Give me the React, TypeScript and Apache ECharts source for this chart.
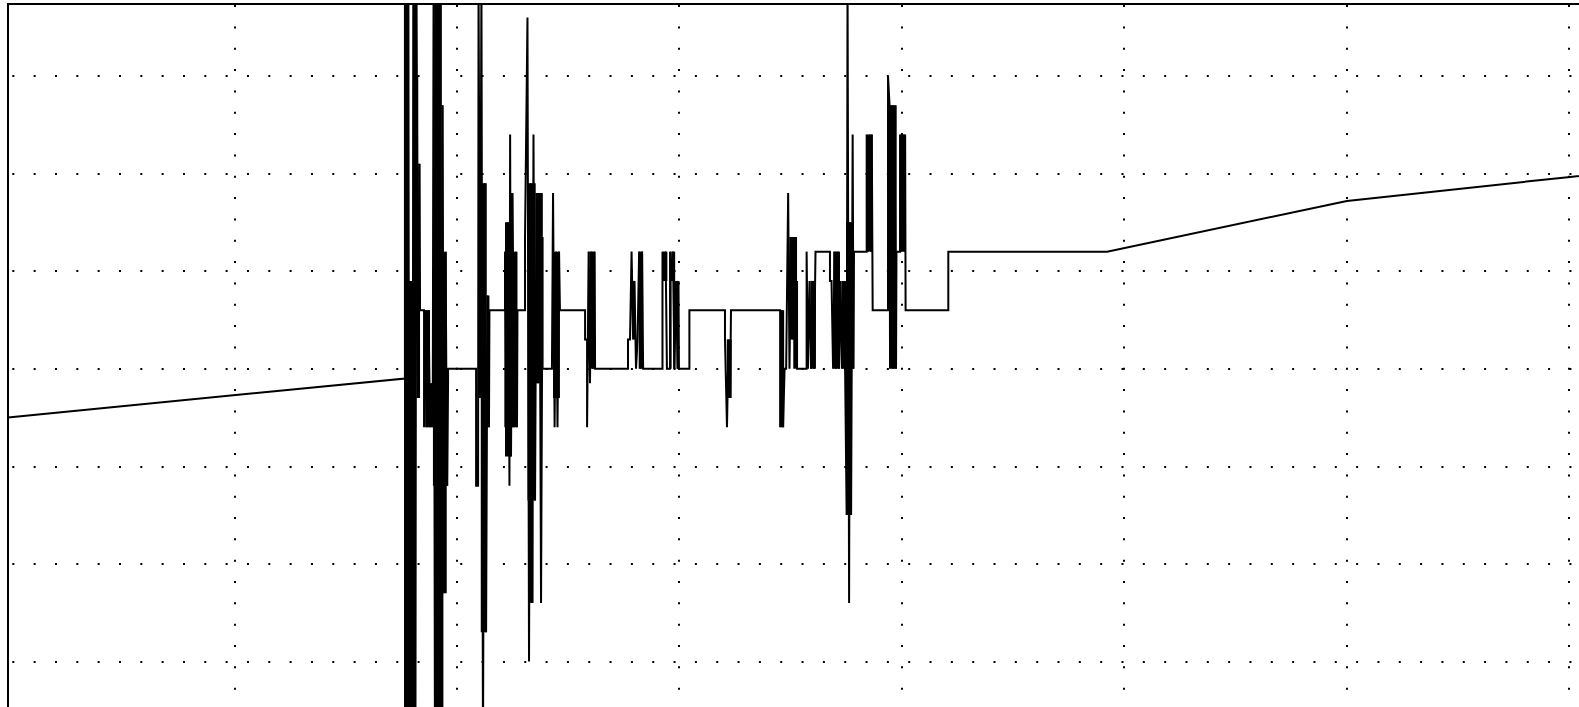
import React, { useEffect, useRef } from "react";
import * as echarts from "echarts";

// x: time, 100 units per division; y: amplitude, 5 units per division
const xGridTicks = [100, 200, 300, 400, 500, 600, 700];
const yGridTicks = [15, 10, 5, 0, -5, -10, -15];

const leftRamp: number[][] = [[-1.75, -2.5], [176.7, -0.5]];

const burstA: number[][] = [
  [176.7, 20], [177.4, -20], [178.1, 20], [178.7, -20], [179.2, 4.5], [179.9, -20],
  [180.6, 20], [181.2, -20], [181.9, 20], [182.6, -1.5], [183.3, 10.5], [183.5, 3],
  [185.3, 3], [185.3, -3], [186.0, 3], [186.6, -3], [187.3, 3], [188.0, -3],
  [188.7, -0.75], [189.2, -3],
];

const burstB: number[][] = [
  [189.6, 20], [190.2, -20], [190.9, 20], [191.6, -20], [192.3, 20], [192.9, -20],
  [193.6, 13.5], [194.3, -11.5], [195.0, 6], [195.6, -6], [196.1, -0.75], [196.1, 0],
  [208.7, 0], [208.7, -6], [209.6, -6],
];

const burstC: number[][] = [
  [209.8, 20], [210.5, -1.5], [211.1, 20], [211.8, -20], [212.5, 9.5], [213.2, -13.5],
  [213.8, 3.75], [214.5, -3], [214.7, 3], [221.7, 3], [221.7, 6], [222.4, -3],
  [223.1, 7.5], [223.7, -6], [224.0, 12], [224.4, -4.5], [225.1, 9], [225.8, -3],
  [226.4, 6], [227.1, -3], [227.3, 3], [230.7, 3], [230.7, 6.75], [231.8, 18],
  [232.5, -15], [233.2, 9.5], [233.9, -12], [234.5, 12], [235.2, -6.75], [235.9, 9],
  [236.5, -0.75], [237.2, 9], [237.9, -12], [238.6, 6.75], [238.6, 0], [242.8, 0],
  [243.3, 9], [244.0, -3], [244.6, 6], [245.3, -3], [246.0, 6], [246.4, 3], [257.7, 3],
];

const midSection: number[][] = [
  [257.7, 1.5], [258.6, 1.5], [258.6, -3], [259.3, 6], [259.9, -0.75], [260.6, 6],
  [261.3, 0], [262.0, 6], [262.2, 0], [277.0, 0], [277.0, 1.5], [277.9, 1.5],
  [278.6, 6], [279.3, 1.5], [279.9, 4.5], [280.6, 0], [281.3, 1.5], [282.0, 6],
  [282.6, 0], [283.3, 6], [283.8, 0], [292.5, 0], [292.5, 6], [293.2, 4.5],
  [293.9, 6], [294.5, 0], [295.9, 0], [295.9, 6], [296.6, 4.5], [297.2, 6],
  [297.9, 0], [298.6, 4.5], [299.3, 0], [299.7, 4.5], [299.9, 0], [304.6, 0],
  [304.6, 3], [320.6, 3], [320.6, 1.5], [321.5, -3], [322.2, 1.5], [322.9, -1.5],
  [323.3, 3], [345.4, 3],
];

const burstD: number[][] = [
  [345.4, -3], [346.0, 3], [346.7, -3], [347.4, 0], [348.1, 0], [349.0, 9],
  [349.6, 0], [350.3, 6.75], [351.0, 1.5], [351.6, 6], [352.3, 1.5], [353.0, 4.5],
  [353.0, 0], [357.3, 0], [357.3, 6], [357.9, 0], [358.6, 4.5], [359.3, 0],
  [360.0, 4.5], [360.6, 0], [361.3, 6], [367.8, 6], [367.8, 4.5], [368.5, 4.5],
  [369.2, 0], [369.9, 6], [370.5, 0], [371.2, 6], [371.9, 0], [372.6, 4.5],
  [373.2, 0], [373.9, 4.5], [374.6, 0], [375.3, -7.5], [375.7, 20], [376.4, -12],
  [376.8, 7.5], [377.3, -7.5], [378.0, 12], [378.4, 0], [378.6, 6], [384.3, 6],
  [384.3, 12], [384.9, 6], [385.6, 12], [386.3, 6], [386.6, 12], [387.0, 3],
  [393.9, 3], [393.9, 15], [394.6, 13.5], [394.8, 0], [395.5, 13.5], [396.2, 0],
  [396.8, 13.5], [397.5, 0], [397.7, 6], [399.3, 6], [399.3, 12], [400.0, 6],
  [400.7, 12], [401.3, 6], [401.6, 12], [401.8, 3], [421.0, 3],
];

const rightRamp: number[][] = [
  [421.0, 6], [492.4, 6], [600.2, 8.6], [700.6, 9.83], [714, 10],
];

// dense-oscillation envelopes: [xStart, xEnd, yLow, yHigh]
const envelopes: number[][] = [
  [176.3, 178.7, -20, 20], [178.9, 180.1, -20, 4.5], [180.1, 181.9, -20, 20],
  [181.9, 182.7, -1.5, 15], [182.7, 183.5, -1.5, 10.5],
  [185.8, 188.0, -3, 3], [188.0, 189.2, -3, -0.75],
  [189.3, 190.2, -6, 20], [190.2, 193.3, -20, 20], [193.3, 194.0, -20, 13.5],
  [194.0, 195.5, -11.5, 6], [195.5, 196.2, -6, -0.75],
  [209.7, 213.5, -1.5, 9.5], [213.5, 214.7, -3, 3.75], [210.8, 213.5, -13.5, -1.5],
  [221.4, 227.3, -3, 6], [221.7, 224.6, -4.5, 7.5], [224.4, 225.3, -3, 9],
  [231.8, 235.5, -6.75, 9.5], [235.5, 238.7, -0.75, 9], [232.4, 234.5, -12, -6.75],
  [243.3, 246.4, -1.5, 6],
  [259.6, 262.2, 0, 6], [279.1, 280.2, 1.5, 4.5], [281.8, 283.8, 0, 6],
  [292.6, 294.7, 4.5, 6], [295.9, 296.6, 0, 6], [296.6, 297.3, 4.5, 6], [297.3, 298.2, 0, 6],
  [298.9, 299.6, 0, 4.5], [321.4, 323.6, -1.5, 1.5],
  [345.4, 347.2, -3, 3], [349.5, 353.0, 1.5, 6.75], [351.3, 353.0, 0, 4.5],
  [359.0, 361.5, 0, 4.5], [369.3, 372.3, 0, 6],
  [373.1, 378.6, 0, 4.5], [375.0, 378.6, 4.5, 7.5], [375.0, 377.1, -7.5, 0],
  [384.4, 387.0, 6, 12], [395.1, 397.8, 0, 13.5], [399.3, 401.6, 6, 12],
];

const trace = [...leftRamp, ...burstA, ...burstB, ...burstC, ...midSection, ...burstD, ...rightRamp];

export default function App() {
  const ref = useRef<HTMLDivElement>(null);
  useEffect(() => {
    if (!ref.current) return;
    const chart = echarts.init(ref.current, null, { renderer: "svg" });
    const dot = { color: "#000", width: 2, cap: "butt" as const };
    chart.setOption({
      animation: false,
      backgroundColor: "#fff",
      grid: {
        left: 8,
        top: 4,
        right: 0,
        bottom: 0,
        show: true,
        borderColor: "#000",
        borderWidth: 2,
        backgroundColor: "transparent",
        outerBoundsMode: "none",
      },
      xAxis: {
        type: "value",
        min: -1.75,
        max: 714,
        axisLine: { show: false },
        axisTick: { show: false },
        axisLabel: { show: false },
        splitLine: { show: false },
      },
      yAxis: {
        type: "value",
        min: -20,
        max: 18.69,
        axisLine: { show: false },
        axisTick: { show: false },
        axisLabel: { show: false },
        splitLine: { show: false },
      },
      series: [
        {
          type: "line",
          data: [],
          silent: true,
          markLine: {
            silent: true,
            symbol: ["none", "none"],
            label: { show: false },
            lineStyle: { ...dot, type: [2, 19.33], dashOffset: 16.3 },
            emphasis: { disabled: true },
            data: xGridTicks.map((v) => ({ xAxis: v })),
          },
        },
        {
          type: "line",
          data: [],
          silent: true,
          markLine: {
            silent: true,
            symbol: ["none", "none"],
            label: { show: false },
            lineStyle: { ...dot, type: [2, 19.33], dashOffset: 17 },
            emphasis: { disabled: true },
            data: yGridTicks.map((v) => ({ yAxis: v })),
          },
        },
        {
          type: "custom",
          silent: true,
          z: 3,
          data: envelopes,
          renderItem: (params: any, api: any) => {
            const p0 = api.coord([api.value(0), api.value(3)]);
            const p1 = api.coord([api.value(1), api.value(2)]);
            const rect = echarts.graphic.clipRectByRect(
              { x: p0[0], y: p0[1], width: p1[0] - p0[0], height: p1[1] - p0[1] },
              {
                x: params.coordSys.x,
                y: params.coordSys.y,
                width: params.coordSys.width,
                height: params.coordSys.height,
              }
            );
            return rect ? { type: "rect", shape: rect, style: { fill: "#000" } } : null;
          },
        },
        {
          type: "line",
          data: trace,
          showSymbol: false,
          symbol: "none",
          silent: true,
          clip: true,
          lineStyle: { color: "#000", width: 2, join: "miter" },
          z: 4,
        },
      ],
    });
    return () => chart.dispose();
  }, []);
  return (
    <div style={{ position: "fixed", left: 0, top: 0, width: 1579, height: 707, overflow: "hidden", background: "#fff" }}>
      <div ref={ref} style={{ width: 1600, height: 759 }} />
    </div>
  );
}
